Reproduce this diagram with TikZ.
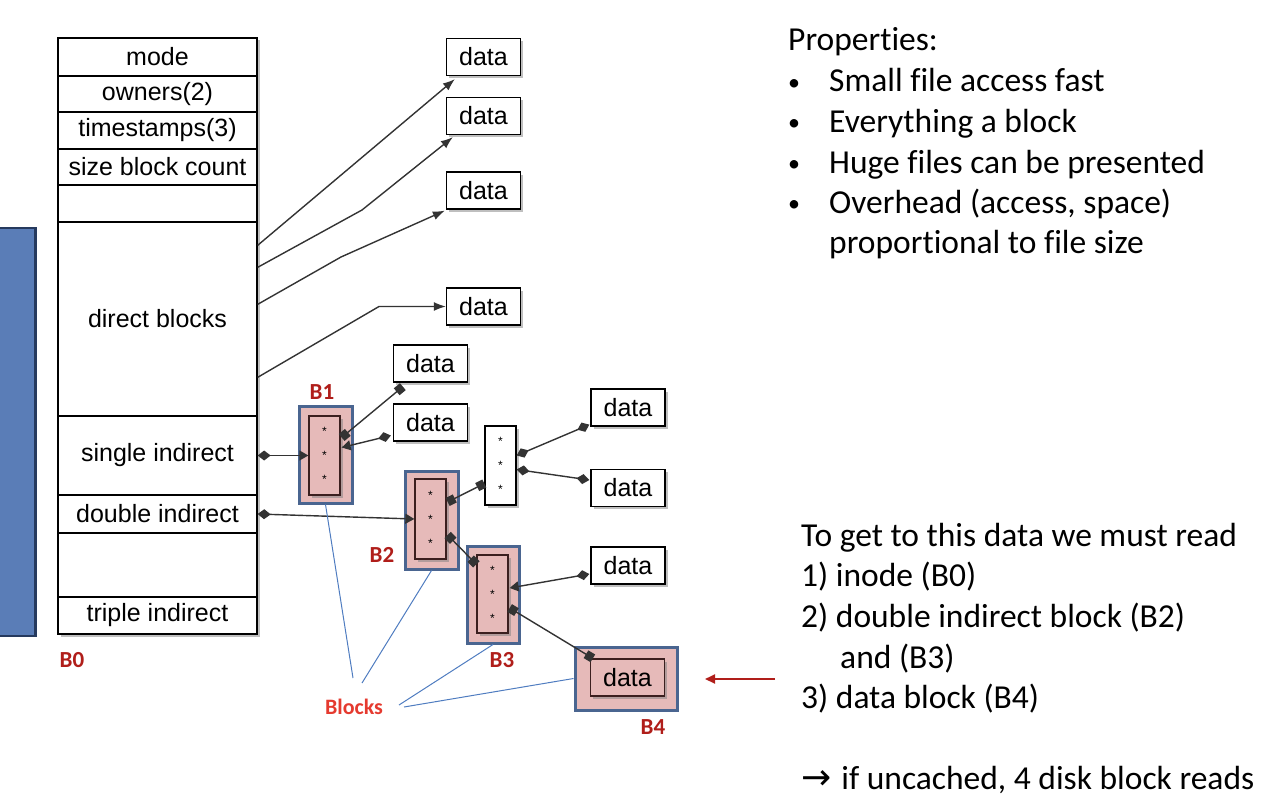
\documentclass[tikz,border=0pt]{standalone}
\usepackage{fontspec}
\setmainfont{Liberation Sans}
\newfontfamily\slidefont[Ligatures=NoCommon]{Carlito}
\newfontfamily\arrowfont{DejaVu Sans}
\usetikzlibrary{arrows.meta,shadows,calc}

\definecolor{sideblue}{RGB}{90,125,183}
\definecolor{sideedge}{RGB}{38,58,94}
\definecolor{blockpink}{RGB}{230,186,185}
\definecolor{blockedge}{RGB}{74,101,144}
\definecolor{inneredge}{RGB}{59,31,31}
\definecolor{labelred}{RGB}{176,30,26}
\definecolor{blocksred}{RGB}{229,58,47}
\definecolor{calloutblue}{RGB}{79,124,192}

\tikzset{
  blkshadow/.style={drop shadow={shadow xshift=2.5pt, shadow yshift=-2.5pt, opacity=0.5}},
  cell/.style={draw, fill=white, line width=1.3pt, minimum width=199pt, inner sep=0pt, font=\fontsize{25}{30}\selectfont},
  datablk/.style={draw, fill=white, line width=1.3pt, minimum width=74pt, minimum height=37pt, inner sep=0pt, blkshadow, font=\fontsize{25}{30}\selectfont},
  frameblk/.style={draw=blockedge, fill=blockpink, line width=3pt, inner sep=0pt},
  ptrblk/.style={draw=inneredge, fill=blockpink, line width=1.3pt, minimum width=31pt, minimum height=79pt, inner sep=0pt, blkshadow},
  starmark/.style={font=\fontsize{12}{12}\selectfont, inner sep=0pt},
  link/.style={line width=1.4pt, black!80},
  dia/.tip={Diamond[length=13pt,width=10pt]},
  sq/.tip={Square[length=8pt,width=9pt]},
  tri/.tip={Triangle[length=9pt,width=10pt]},
  directlink/.style={link, -{Latex[length=12pt,width=9pt]}},
  blabel/.style={font=\slidefont\bfseries\fontsize{23}{23}\selectfont, text=labelred},
  callout/.style={calloutblue, line width=1pt},
  slideline/.style={anchor=base west, inner sep=0pt, font=\slidefont\fontsize{33.5}{40}\selectfont},
  bulletmark/.style={anchor=base west, inner sep=0pt, font=\slidefont\fontsize{24}{24}\selectfont}
}

\begin{document}
\begin{tikzpicture}[x=1pt,y=-1pt]
\useasboundingbox (0,0) rectangle (1282,800);

% side bar
\node[draw=sideedge, fill=sideblue, line width=2.5pt, minimum width=45pt, minimum height=408pt] (side) at (13,432) {};

% inode
\node[draw, fill=white, line width=1.3pt, minimum width=199pt, minimum height=596pt, blkshadow] (inode) at (157.5,336) {};
\node[cell, minimum height=38pt] (mode) at (157.5,57) {mode};
\node[cell, minimum height=36pt] (owners) at (157.5,94) {owners(2)};
\node[cell, minimum height=37pt] (stamps) at (157.5,130.5) {timestamps(3)};
\node[cell, minimum height=36pt] (size) at (157.5,167) {size block count};
\node[cell, minimum height=37pt] (blank1) at (157.5,203.5) {};
\node[cell, minimum height=194pt] (direct) at (157.5,319) {direct blocks};
\node[cell, minimum height=79pt] (single) at (157.5,455.5) {single indirect};
\node[cell, minimum height=38pt] (double) at (157.5,514) {double indirect};
\node[cell, minimum height=64pt] (blank2) at (157.5,565) {};
\node[cell, minimum height=37pt] (triple) at (157.5,615.5) {triple indirect};
\node[blabel] (b0) at (72,660) {B0};

% direct data
\node[datablk] (data1) at (483.5,57) {data};
\node[datablk] (data2) at (483.5,116) {data};
\node[datablk] (data3) at (483.5,190.5) {data};
\node[datablk] (data4) at (483.5,306.5) {data};

\draw[directlink] ($(direct.north east)+(0,24)$) -- ($(data1.south west)+(9,3)$);
\draw[directlink] ($(direct.north east)+(0,46)$) -- (362,210) -- ($(data2.south west)+(7,2)$);
\draw[directlink] ($(direct.north east)+(0,83)$) -- (341,257) -- ($(data3.south west)+(-1,1)$);
\draw[directlink] ($(direct.north east)+(0,156)$) -- (379,306.5) -- (data4.west);

% B1
\node[frameblk, minimum width=53pt, minimum height=97pt] (b1) at (325.5,454.5) {};
\node[ptrblk] (b1in) at (324.5,455.5) {};
\foreach \dy in {-24,0,24}
  \node[starmark] at ($(b1in)+(0,\dy)$) {*};
\node[blabel] (b1lab) at (322,392) {B1};
\node[datablk] (data5) at (430.5,363.5) {data};
\node[datablk] (data6) at (430.5,422.5) {data};

% white pointer block
\node[ptrblk, fill=white, draw=black] (idx) at (500.5,465.5) {};
\foreach \dy in {-24,0,24}
  \node[starmark] at ($(idx)+(0,\dy)$) {*};
\node[datablk] (data7) at (628,407.5) {data};
\node[datablk] (data8) at (628,488) {data};

% B2
\node[frameblk, minimum width=53pt, minimum height=98pt] (b2) at (431.5,520) {};
\node[ptrblk, minimum height=80pt] (b2in) at (430.5,519) {};
\foreach \dy in {-24,0,24}
  \node[starmark] at ($(b2in)+(0,\dy)$) {*};
\node[blabel] (b2lab) at (382,555) {B2};

% B3
\node[frameblk, minimum width=52pt, minimum height=97pt] (b3) at (493,594.5) {};
\node[ptrblk, minimum height=78pt] (b3in) at (492.5,594) {};
\foreach \dy in {-24,0,24}
  \node[starmark] at ($(b3in)+(0,\dy)$) {*};
\node[blabel] (b3lab) at (502,660) {B3};
\node[datablk] (data9) at (628,565.5) {data};

% B4
\node[frameblk, minimum width=102pt, minimum height=63pt] (b4) at (626,678.5) {};
\node[datablk, fill=blockpink, draw=inneredge] (b4in) at (627.5,677.5) {data};
\node[blabel] (b4lab) at (653,727) {B4};

% pointers
\draw[link, {dia}-{tri}] (single.east) -- (b1in.west);
\draw[link, {dia}-{tri}] (double.east) -- (b2in.west);
\draw[link, {sq}-{sq}] ($(b1in.east)+(1,-18)$) -- ($(data5.south west)+(10,4)$);
\draw[link, {tri}-{dia}] ($(b1in.east)+(1,-8)$) -- ($(data6.west)+(-2,13)$);
\draw[link, {sq}-{sq}] ($(b2in.east)+(1,-17)$) -- ($(idx.west)+(0,18)$);
\draw[link, {sq}-{sq}] ($(b2in.east)+(1,16)$) -- ($(b3in.north west)+(0,10)$);
\draw[link, {dia}-{dia}] ($(idx.east)+(0,-10)$) -- ($(data7.south west)+(-1,-2)$);
\draw[link, {dia}-{dia}] ($(idx.east)+(0,4)$) -- ($(data8.west)+(-1,-8)$);
\draw[link, {tri}-{dia}] ($(b3in.east)+(1,-6)$) -- ($(data9.west)+(-1,8.5)$);
\draw[link, {sq}-{sq}] ($(b3in.east)+(1,14)$) -- ($(b4in.north west)+(3,0)$);

% blocks callout
\node[font=\slidefont\bfseries\fontsize{22}{22}\selectfont, text=blocksred] (blocks) at (354,707) {Blocks};
\coordinate (bl1) at (353,678);
\coordinate (bl2) at (362,683);
\coordinate (bl3) at (399,705);
\coordinate (bl4) at (404,707);
\draw[callout] (bl1) -- (b1.south);
\draw[callout] (bl2) -- (b2.south);
\draw[callout] (bl3) -- (b3.south);
\draw[callout] (bl4) -- (b4.west);

% red arrow
\coordinate (rtail) at (775,679);
\coordinate (rhead) at (705,679);
\draw[labelred, line width=2pt, -{Triangle[length=10pt,width=9pt]}] (rtail) -- (rhead);

% properties
\node[slideline] (prop) at (788,51) {Properties:};
\node[bulletmark] (p1) at (788,90) {•};
\node[slideline] (p1t) at (829,92) {Small file access fast};
\node[bulletmark] (p2) at (788,130) {•};
\node[slideline] (p2t) at (829,132) {Everything a block};
\node[bulletmark] (p3) at (788,171) {•};
\node[slideline] (p3t) at (829,173) {Huge files can be presented};
\node[bulletmark] (p4) at (788,211) {•};
\node[slideline] (p4t) at (829,213) {Overhead (access, space)};
\node[slideline] (p5t) at (829,253) {proportional to file size};

% read list
\node[slideline] (r0) at (801,546) {To get to this data we must read};
\node[slideline] (r1) at (801,586) {1) inode (B0)};
\node[slideline] (r2) at (801,627) {2) double indirect block (B2)};
\node[slideline] (r2b) at (840,668) {and (B3)};
\node[slideline] (r3) at (801,708) {3) data block (B4)};
\node[slideline] (r4) at (801,789) {{\arrowfont\fontsize{36}{36}\selectfont →}\hspace{10pt}if uncached, 4 disk block reads};
\end{tikzpicture}
\end{document}
